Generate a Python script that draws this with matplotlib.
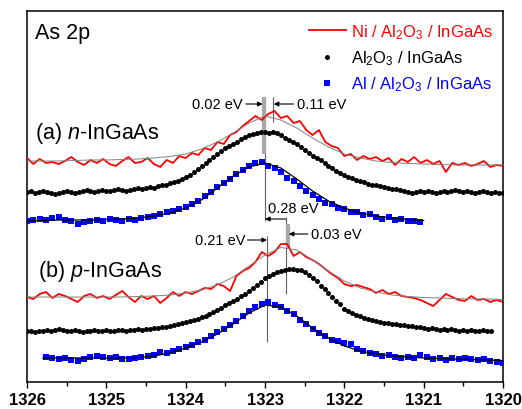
import matplotlib
matplotlib.use("Agg")
import matplotlib.pyplot as plt
import numpy as np

# Fuentes parecidas a Arial
plt.rcParams['font.family'] = ['Liberation Sans', 'DejaVu Sans']
plt.rcParams['mathtext.fontset'] = 'custom'
plt.rcParams['mathtext.rm'] = 'Liberation Sans'
plt.rcParams['mathtext.it'] = 'Liberation Sans:italic'

DPI_GRÁFICOS = 100

# Intensidades (u.a., con desplazamiento vertical)
# (a) n-InGaAs
rojoA = [224, 218, 223, 219, 220, 218, 221, 225, 220, 217,
	222, 219, 223, 218, 216, 221, 225, 219, 220, 224,
	218, 215, 222, 219, 226, 224, 229, 227, 234, 232,
	240, 238, 247, 250, 256, 261, 266, 262, 268, 271,
	264, 266, 259, 261, 252, 247, 252, 240, 236, 234,
	226, 228, 222, 226, 223, 225, 221, 224, 217, 223,
	220, 225, 219, 222, 218, 221, 210, 219, 217, 219,
	216, 218, 221, 215, 217, 216]
ajusteRojoA = [221, 221, 221, 221.5, 222, 222, 222.5, 223, 224, 225.5,
	228, 233, 240, 249, 259, 266, 262, 254, 244, 235,
	228, 224, 221, 219.5, 218.5, 218, 217.5, 217, 217, 217, 217]
negroA = [190, 191, 189, 190, 191, 190, 189, 188, 189, 190, 191, 190, 189, 190, 191, 192, 191, 190, 191, 192, 191,
	191, 192, 193, 192, 191, 192, 193, 194, 193, 194,
	195, 194, 196, 197, 197, 199, 200, 201, 203, 205,
	207, 210, 213, 216, 219, 222, 225, 228, 231, 234,
	236, 238, 240, 243, 245, 247, 248, 249, 250, 250,
	249, 250, 249, 247, 244, 242, 240, 238, 235, 232,
	229, 226, 224, 222, 219, 216, 214, 211, 209, 207,
	205, 204, 202, 201, 200, 198, 197, 197, 196, 195,
	194, 193, 193, 192, 191, 190, 189, 190, 191, 190,
	191, 190, 189, 190, 191, 190, 191, 192, 191, 190,
	191, 190, 189, 190, 191, 190, 189, 190, 189, 189]
azulA = [161, 162, 163, 162, 164, 165, 162, 161, 158, 160,
	161, 162, 161, 163, 162, 161, 163, 162, 164, 165,
	166, 168, 170, 171, 173, 175, 178, 181, 186, 190,
	195, 199, 203, 208, 212, 216, 219, 220, 216, 214,
	210, 204, 201, 196, 191, 187, 183, 179, 178, 174,
	173, 170, 170, 167, 168, 165, 163, 165, 162, 163,
	161, 161, 160]
ajusteAzulA = [161, 161.5, 162, 162, 162, 162.5, 163, 164, 166, 169,
	174, 182, 194, 206, 215, 219, 214, 203, 191, 181,
	174, 169, 166, 164, 162.5, 161.5]

# (b) p-InGaAs
rojoB = [85, 83, 88, 90, 84, 88, 86, 83, 80, 86,
	88, 84, 86, 83, 87, 91, 85, 80, 86, 83,
	86, 79, 84, 90, 86, 90, 88, 91, 94, 93,
	98, 96, 91, 106, 111, 114, 120, 130, 126, 130,
	138, 138, 126, 130, 125, 122, 118, 113, 108, 104,
	98, 96, 97, 95, 93, 89, 92, 88, 90, 86,
	85, 84, 82, 79, 76, 82, 88, 85, 82, 81,
	86, 82, 83, 80, 82, 80]
ajusteRojoB = [85, 85, 85, 85, 85, 85, 85, 85.5, 86, 87,
	89, 92, 97, 105, 116, 127, 134.5, 132, 122, 111,
	101, 94, 90, 87, 85.5, 84.5, 84, 83.5, 83, 83, 82.5]
negroB = [51, 51, 50, 51, 51, 52, 51, 52, 53, 52, 51, 51, 52, 51, 50, 51, 51, 52, 51, 51, 52,
	51, 51, 52, 52, 51, 52, 52, 53, 52, 53,
	53, 54, 54, 55, 55, 56, 57, 58, 59, 60,
	61, 62, 63, 65, 66, 68, 70, 72, 74, 77,
	79, 81, 83, 86, 88, 91, 94, 97, 100, 104,
	106, 108, 110, 111, 112, 113, 113, 112, 112, 110,
	107, 104, 101, 96, 93, 89, 85, 81, 78, 73,
	71, 69, 67, 66, 64, 63, 62, 61, 60, 59,
	59, 58, 58, 57, 57, 56, 56, 55, 55, 54,
	53, 54, 53, 52, 53, 52, 53, 52, 51, 52,
	51, 52, 51, 51, 52, 51, 51]
azulB = [25, 24, 23, 24, 22, 21, 23, 25, 26, 25,
	24, 25, 23, 23, 24, 25, 26, 27, 30, 29,
	31, 33, 35, 37, 40, 42, 46, 50, 53, 57,
	61, 66, 71, 75, 78, 80, 77, 75, 71, 68,
	62, 58, 53, 49, 46, 42, 41, 39, 38, 33,
	31, 29, 28, 26, 27, 25, 24, 25, 24, 27,
	25, 23, 24, 22, 24, 23, 24, 23, 22, 23,
	21, 20, 19]
ajusteAzulB = [24, 24, 24, 24, 24, 24, 24.5, 26, 29, 34,
	40, 48, 58, 69, 77, 75, 66, 54, 44, 36,
	31, 28, 26, 25, 24, 23.5, 23, 22.5, 22, 21.5]

# Inicio y paso de energía (eV) de cada serie
INICIO_ROJO, PASO_ROJO = 1326.0, 0.08
INICIO_NEGRO, PASO_NEGRO = 1326.0, 0.05
INICIO_AZUL_A, INICIO_AZUL_B, PASO_AZUL = 1326.0, 1325.76, 0.08
PASO_AJUSTE = 0.2

# Posiciones de pico marcadas (eV) y tramo vertical de cada marca
MARCAS = [
	(1323.00, 161, 285, '#606060', 0.8),
	(1323.015, 228, 285, '#a8a8a8', 3.0),
	(1322.90, 260, 285, '#606060', 0.8),
	(1322.73, 88, 165, '#606060', 0.8),
	(1322.715, 133, 158, '#a8a8a8', 3.0),
	(1322.97, 40, 146, '#606060', 0.8),
]
# Flechas: texto, x inicio, x fin, altura, x texto, alineación
FLECHAS = [
	("0.02 eV", 1323.24, 1323.03, 278, 1323.28, 'right'),
	("0.11 eV", 1322.64, 1322.89, 278, 1322.60, 'left'),
	("0.28 eV", 1322.74, 1323.00, 163, 1322.96, 'left'),
	("0.21 eV", 1323.22, 1322.975, 142, 1323.25, 'right'),
	("0.03 eV", 1322.46, 1322.70, 148, 1322.42, 'left'),
]
ETIQUETA_028_ALTURA = 174


def energías(inicio, paso, valores):
	return inicio - paso * np.arange(len(valores))


def main():
	fig = plt.figure(figsize = (5.22, 4.10), dpi = DPI_GRÁFICOS)
	ax = fig.add_axes([27 / 522, 27 / 410, 476 / 522, 371 / 410])

	# Ni / Al2O3 / InGaAs
	lRojo, = ax.plot(energías(INICIO_ROJO, PASO_ROJO, rojoA), rojoA, color = '#ff0000', lw = 1.3, zorder = 3)
	ax.plot(energías(INICIO_ROJO, PASO_ROJO, rojoB), rojoB, color = '#ff0000', lw = 1.3, zorder = 3)
	ax.plot(energías(INICIO_ROJO, PASO_AJUSTE, ajusteRojoA), ajusteRojoA, color = '#808080', lw = 0.7, zorder = 4)
	ax.plot(energías(INICIO_ROJO, PASO_AJUSTE, ajusteRojoB), ajusteRojoB, color = '#808080', lw = 0.7, zorder = 4)

	# Al2O3 / InGaAs
	lNegro, = ax.plot(energías(INICIO_NEGRO, PASO_NEGRO, negroA), negroA, 'o', color = 'black', ms = 3.6, mew = 0, zorder = 3)
	ax.plot(energías(INICIO_NEGRO, PASO_NEGRO, negroB), negroB, 'o', color = 'black', ms = 3.6, mew = 0, zorder = 3)

	# Al / Al2O3 / InGaAs
	lAzul, = ax.plot(energías(INICIO_AZUL_A, PASO_AZUL, azulA), azulA, 's', color = '#0000ff', ms = 4.8, mew = 0, zorder = 3)
	ax.plot(energías(INICIO_AZUL_B, PASO_AZUL, azulB), azulB, 's', color = '#0000ff', ms = 4.8, mew = 0, zorder = 3)
	ax.plot(energías(INICIO_AZUL_A, PASO_AJUSTE, ajusteAzulA), ajusteAzulA, color = 'black', lw = 0.9, zorder = 4)
	ax.plot(energías(1325.8, PASO_AJUSTE, ajusteAzulB), ajusteAzulB, color = 'black', lw = 0.9, zorder = 4)

	# Marcas de los picos
	for e, y0, y1, color, ancho in MARCAS:
		ax.plot([e, e], [y0, y1], color = color, lw = ancho, zorder = 2, solid_capstyle = 'butt')

	for texto, x0, x1, y, xt, ha in FLECHAS:
		ax.annotate("", xy = (x1, y), xytext = (x0, y),
			arrowprops = dict(arrowstyle = '-|>', color = 'black', lw = 0.8, mutation_scale = 7, shrinkA = 0, shrinkB = 0), zorder = 5)
		yt = ETIQUETA_028_ALTURA if texto == "0.28 eV" else y
		ax.text(xt, yt, texto, ha = ha, va = 'center', fontsize = 10.5, zorder = 5)

	ax.text(1325.90, 349, "As 2p", fontsize = 15.5, va = 'center', ha = 'left')
	ax.text(1325.90, 250, r"(a) $\mathit{n}$-InGaAs", fontsize = 15.5, va = 'center', ha = 'left')
	ax.text(1325.86, 112, r"(b) $\mathit{p}$-InGaAs", fontsize = 15.5, va = 'center', ha = 'left')

	etiquetas = [r"Ni / Al$_\mathregular{2}$O$_\mathregular{3}$ / InGaAs",
		r"Al$_\mathregular{2}$O$_\mathregular{3}$ / InGaAs",
		r"Al / Al$_\mathregular{2}$O$_\mathregular{3}$ / InGaAs"]
	ax.legend([lRojo, lNegro, lAzul], etiquetas, loc = 'upper right', bbox_to_anchor = (1.01, 1.01),
		frameon = False, fontsize = 12, handlelength = 2.2, handletextpad = 0.3, labelspacing = 0.45,
		labelcolor = ['#ff0000', 'black', '#0000ff'], numpoints = 1)

	ax.set_xlim(1326, 1320)
	ax.set_ylim(0, 371)
	ax.set_xticks(np.arange(1320, 1327, 1))
	ax.set_xticks(np.arange(1320, 1326.5, 0.5), minor = True)
	ax.set_yticks([])
	ax.tick_params(axis = 'x', which = 'major', direction = 'out', length = 4.5, width = 1.0, labelsize = 12, pad = 2.5)
	ax.tick_params(axis = 'x', which = 'minor', direction = 'out', length = 3, width = 1.0)
	for etiqueta in ax.get_xticklabels():
		etiqueta.set_fontweight('bold')
	for lado in ax.spines.values():
		lado.set_linewidth(1.1)

	plt.savefig('out.png', dpi = DPI_GRÁFICOS)
	plt.clf()


if __name__ == "__main__":
	main()
